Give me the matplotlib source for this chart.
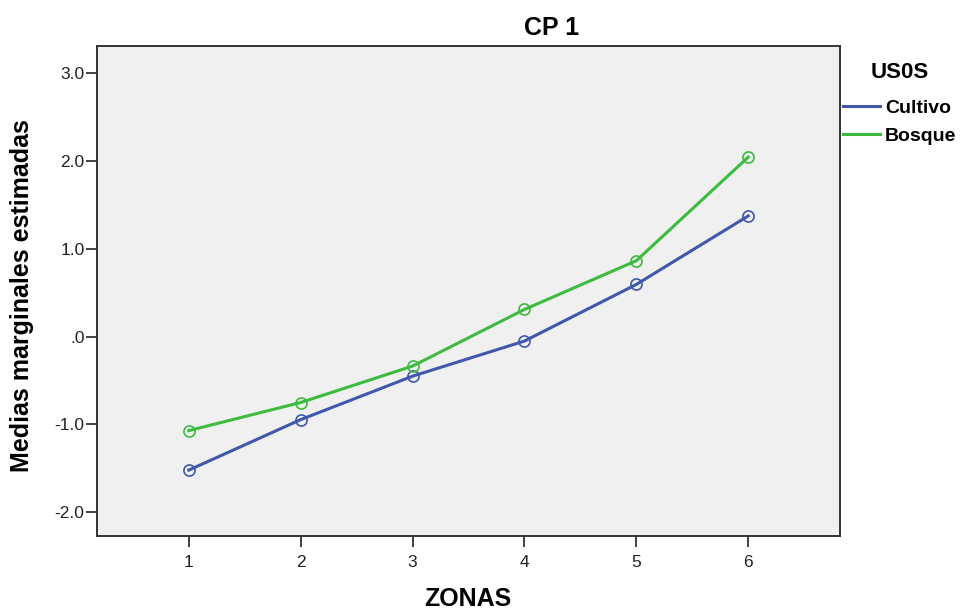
import matplotlib
matplotlib.use("Agg")
import matplotlib.pyplot as plt
from matplotlib.lines import Line2D

plt.rcParams['font.family'] = ['Liberation Sans', 'DejaVu Sans']

zonas = [1, 2, 3, 4, 5, 6]
cultivo = [-1.52, -0.945, -0.45, -0.05, 0.595, 1.375]
bosque = [-1.07, -0.75, -0.335, 0.31, 0.865, 2.045]
yticks = [-2.0, -1.0, 0.0, 1.0, 2.0, 3.0]
ytick_labels = ["-2.0", "-1.0", ".0", "1.0", "2.0", "3.0"]
series_names = ["Cultivo", "Bosque"]

c_blue = "#3F58AB"
c_green = "#3CBB3F"

fig = plt.figure(figsize=(9.62, 6.12), dpi=100)
ax = fig.add_axes([97/962, 1-536/612, (840-97)/962, (536-46)/612])
ax.set_facecolor("#F0F0F0")

for vals, col in [(cultivo, c_blue), (bosque, c_green)]:
    ax.plot(zonas, vals, color=col, lw=2.2, marker='o', markersize=8,
            markerfacecolor='none', markeredgecolor=col, markeredgewidth=1.2)

ax.set_xlim(0.18, 6.82)
ax.set_ylim(-2.27, 3.31)
ax.set_xticks(zonas)
ax.set_xticklabels([str(z) for z in zonas])
ax.set_yticks(yticks)
ax.set_yticklabels(ytick_labels)
ax.tick_params(axis='both', direction='out', length=8, width=1.3, color='#333333',
               labelsize=12.5, labelcolor='#222222')
ax.tick_params(axis='x', pad=6)
ax.tick_params(axis='y', pad=1)
for s in ax.spines.values():
    s.set_color('#333333')
    s.set_linewidth(1.4)

fig.text(22/962, 1-296/612, "Medias marginales estimadas", rotation=90,
         ha='center', va='center', fontsize=18, fontweight='bold')
fig.text(468/962, 1-599/612, "ZONAS", ha='center', va='center', fontsize=18, fontweight='bold')
fig.text(552/962, 1-28/612, "CP 1", ha='center', va='center', fontsize=18, fontweight='bold')

handles = [Line2D([0], [0], color=c_blue, lw=2.2), Line2D([0], [0], color=c_green, lw=2.2)]
leg = fig.legend(handles, series_names, loc='upper left',
                 bbox_to_anchor=(843/962, 1-62/612), frameon=False,
                 title="US0S", handlelength=1.9, handletextpad=0.25,
                 labelspacing=0.5, borderpad=0, borderaxespad=0,
                 prop={'size': 14, 'weight': 'bold'},
                 title_fontproperties={'size': 16, 'weight': 'bold'})
leg._legend_box.sep = 12

fig.savefig("out.png", dpi=100)
